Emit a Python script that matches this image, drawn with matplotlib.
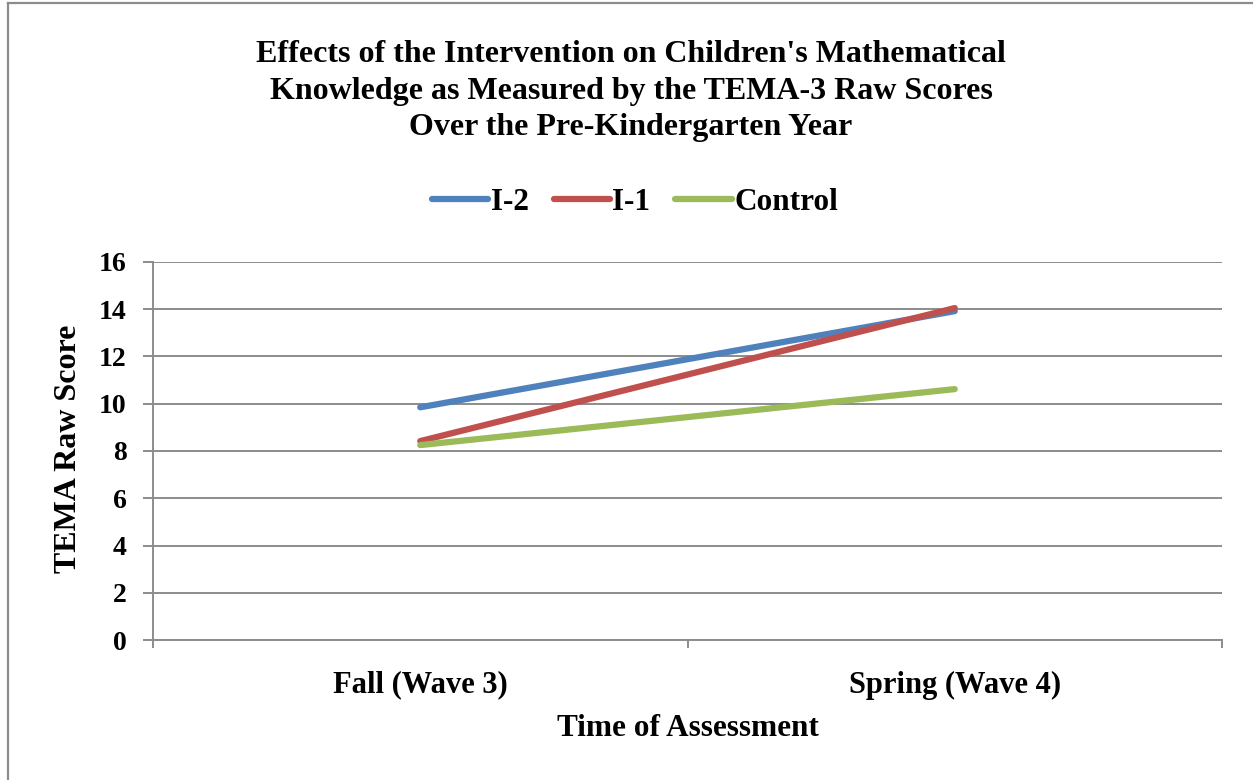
import matplotlib
matplotlib.use("Agg")
import matplotlib.pyplot as plt
from matplotlib.lines import Line2D

categories = ["Fall (Wave 3)", "Spring (Wave 4)"]
series_names = ["I-2", "I-1", "Control"]
i2_values = [9.85, 13.92]
i1_values = [8.42, 14.05]
control_values = [8.25, 10.62]
y_ticks = [0, 2, 4, 6, 8, 10, 12, 14, 16]

colors = ["#4F81BD", "#C0504D", "#9BBB59"]
grid_gray = "#8C8C8C"
W, H = 1253, 780

plt.rcParams["font.family"] = ["Liberation Serif", "DejaVu Serif"]
plt.rcParams["font.weight"] = "bold"

fig = plt.figure(figsize=(W / 100, H / 100), dpi=100)
ax = fig.add_axes([153 / W, 1 - 640 / H, (1222 - 153) / W, (640 - 262) / H])

x = list(range(len(categories)))
for vals, name, c in zip([i2_values, i1_values, control_values], series_names, colors):
    ax.plot(x, vals, color=c, lw=4.5, solid_capstyle="round", label=name, zorder=3)

ax.set_xlim(-0.5, len(categories) - 0.5)
ax.set_ylim(0, 16)
ax.set_yticks(y_ticks)
ax.set_yticklabels([str(t) for t in y_ticks], fontsize=20, fontweight="bold")
ax.set_xticks(x)
ax.set_xticklabels(categories, fontsize=22, fontweight="bold")
ax.set_xticks([-0.5, 0.5, 1.5], minor=True)
ax.tick_params(axis="x", which="major", length=0, pad=22)
ax.tick_params(axis="x", which="minor", length=6, width=1.4, color=grid_gray)
ax.tick_params(axis="y", which="major", length=7, width=1.4, color=grid_gray, pad=12)

ax.yaxis.grid(True, color=grid_gray, lw=1.4)
ax.set_axisbelow(True)
for s in ["top", "right"]:
    ax.spines[s].set_visible(False)
for s in ["left", "bottom"]:
    ax.spines[s].set_color(grid_gray)
    ax.spines[s].set_linewidth(1.4)

fig.text(631 / W, 1 - 91 / H,
         "Effects of the Intervention on Children's Mathematical\n"
         "Knowledge as Measured by the TEMA-3 Raw Scores\n"
         "Over the Pre-Kindergarten Year",
         ha="center", va="center", fontsize=23, fontweight="bold", linespacing=1.33)

fig.text(68 / W, 1 - 449 / H, "TEMA Raw Score", rotation=90, ha="center", va="center",
         fontsize=23, fontweight="bold")
fig.text(688 / W, 1 - 728 / H, "Time of Assessment", ha="center", va="center",
         fontsize=22.5, fontweight="bold")

handles = [Line2D([], [], color=c, lw=4.5, solid_capstyle="round") for c in colors]
fig.legend(handles, series_names, loc="center", bbox_to_anchor=(635 / W, 1 - 202 / H),
           ncol=3, frameon=False, handlelength=1.8, handletextpad=0.08,
           columnspacing=0.8, prop={"weight": "bold", "size": 22.5})

# outer chart frame (left and top visible)
fig.add_artist(Line2D([8 / W, 8 / W], [0, 1 - 3 / H], transform=fig.transFigure,
                      color=grid_gray, lw=1.6))
fig.add_artist(Line2D([8 / W, 1], [1 - 3 / H, 1 - 3 / H], transform=fig.transFigure,
                      color=grid_gray, lw=1.6))

fig.savefig("out.png", dpi=100)
